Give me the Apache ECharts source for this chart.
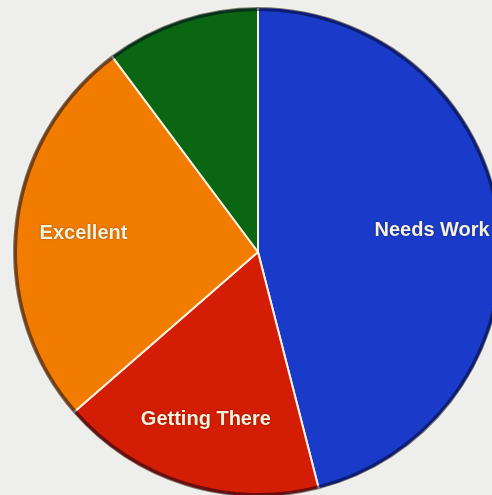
<!DOCTYPE html>
<html>
<head>
<meta charset="utf-8">
<style>
  html, body { margin: 0; padding: 0; background: #eeeeec; }
  #chart { width: 492px; height: 495px; }
</style>
<script src="https://cdn.jsdelivr.net/npm/echarts@6/dist/echarts.min.js"></script>
</head>
<body>
<div id="chart"></div>
<script>
// Slice data, clockwise from 12 o'clock
const categories = ['Needs Work', 'Getting There', 'Excellent', ''];
const shares = [46, 17.6, 26.2, 10.2];
const sliceColors = ['#1a3bc9', '#d41d05', '#f27c00', '#0b6614'];

const chart = echarts.init(document.getElementById('chart'), null, { renderer: 'canvas' });

const R = 245;
const center = [258, 252];

const sliceData = categories.map((name, i) => ({
  name: name,
  value: shares[i],
  itemStyle: { color: sliceColors[i] }
}));

chart.setOption({
  backgroundColor: '#eeeeec',
  animation: false,
  series: [
    {
      // the pie itself, with light separators between slices
      type: 'pie',
      center: center,
      radius: [0, R],
      startAngle: 90,
      clockwise: true,
      silent: true,
      label: { show: false },
      labelLine: { show: false },
      itemStyle: { borderColor: '#f6f3e4', borderWidth: 2 },
      data: sliceData
    },
    {
      // dark rim along the outer edge
      type: 'pie',
      center: center,
      radius: [R - 4, R],
      startAngle: 90,
      clockwise: true,
      silent: true,
      label: { show: false },
      labelLine: { show: false },
      itemStyle: { color: 'rgba(0,0,25,0.5)', borderWidth: 0 },
      data: categories.map((name, i) => ({ name: name, value: shares[i] }))
    },
    {
      // transparent ring that carries the slice labels further out
      type: 'pie',
      center: center,
      radius: [100, R],
      startAngle: 90,
      clockwise: true,
      silent: true,
      itemStyle: { color: 'rgba(0,0,0,0)', borderWidth: 0 },
      labelLine: { show: false },
      label: {
        show: true,
        position: 'inside',
        formatter: '{b}',
        color: '#f6f1dc',
        fontFamily: 'Liberation Sans, Arial, sans-serif',
        fontWeight: 'bold',
        fontSize: 20,
        textShadowColor: 'rgba(0,0,0,0.45)',
        textShadowBlur: 2
      },
      data: categories.map((name, i) => ({ name: name, value: shares[i] }))
    }
  ]
});
</script>
</body>
</html>
